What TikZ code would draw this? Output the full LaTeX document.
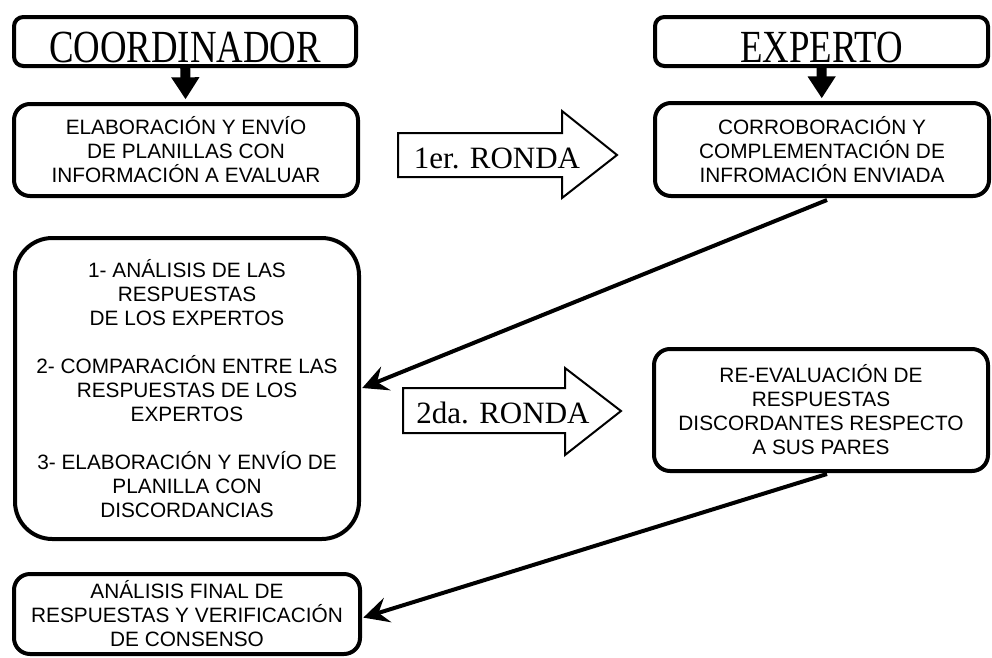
\documentclass[tikz,border=0pt]{standalone}
\usepackage{fontspec}
\setmainfont{Liberation Serif}
\setsansfont{Liberation Sans}
\usetikzlibrary{arrows.meta,calc}

\tikzset{
  borde/.style={draw,line width=3pt,inner sep=0pt},
  caja/.style={borde,rounded corners=12pt,align=center,
    font=\sffamily\fontsize{15.6}{18}\selectfont},
  cabeza/.style={borde,rounded corners=7pt,text height=32pt,text depth=0pt,
    font=\fontsize{34.5}{40}\selectfont},
  baja/.style={line width=7.5pt,-{Triangle[length=16.5pt,width=20pt]},shorten >=2pt},
  flecha/.style={line width=3pt,-{Stealth[length=19pt,width=19pt,inset=7pt]},shorten >=1pt},
  ronda/.style={line width=1.5pt,fill=white},
  rondatxt/.style={anchor=base,font=\fontsize{23.25}{28}\selectfont}
}

\begin{document}
\begin{tikzpicture}[x=0.75pt,y=-0.75pt]
  \useasboundingbox (0,0) rectangle (992,657);
  %% coordinador
  \node[cabeza,minimum width=256.5pt,minimum height=36.75pt] (coord) at (185,41.5)
    {\scalebox{0.8}[1]{COORDINADOR}};
  \node[caja,minimum width=258pt,minimum height=69pt] (elab) at (186,150)
    {ELABORACIÓN Y ENVÍO\\DE PLANILLAS CON\\INFORMACIÓN A EVALUAR};
  \node[caja,rounded corners=28pt,minimum width=258pt,minimum height=225.75pt] (anal) at (187,388.5)
    {1- ANÁLISIS DE LAS\\RESPUESTAS\\DE LOS EXPERTOS\\[18pt]
     2- COMPARACIÓN ENTRE LAS\\RESPUESTAS DE LOS\\EXPERTOS\\[18pt]
     3- ELABORACIÓN Y ENVÍO DE\\PLANILLA CON\\DISCORDANCIAS};
  \node[caja,minimum width=259.5pt,minimum height=60pt] (final) at (187,614)
    {ANÁLISIS FINAL DE\\RESPUESTAS Y VERIFICACIÓN\\DE CONSENSO};
  %% experto
  \node[cabeza,minimum width=249.75pt,minimum height=36.75pt] (exp) at (821.5,41.5)
    {\scalebox{0.8}[1]{EXPERTO}};
  \node[caja,minimum width=250.5pt,minimum height=69.75pt] (corr) at (822,149.5)
    {CORROBORACIÓN Y\\COMPLEMENTACIÓN DE\\INFROMACIÓN ENVIADA};
  \node[caja,minimum width=250.5pt,minimum height=91.5pt] (reeval) at (821,410)
    {RE-EVALUACIÓN DE\\RESPUESTAS\\DISCORDANTES RESPECTO\\A SUS PARES};
  %% rondas
  \draw[ronda] (398,133) -- (562,133) -- (562,111) -- (617,155) -- (562,198)
    -- (562,177) -- (398,177) -- cycle;
  \node[rondatxt] (r1) at (497,168) {1er. RONDA};
  \draw[ronda] (403,388) -- (565,388) -- (565,368) -- (621,411) -- (565,455)
    -- (565,433) -- (403,433) -- cycle;
  \node[rondatxt] (r2) at (503,423) {2da. RONDA};
  %% flechas
  \draw[baja] (coord) -- (elab);
  \draw[baja] (exp) -- (corr);
  \draw[flecha] ($(corr.south)+(5,2)$) -- (anal.east);
  \draw[flecha] ($(reeval.south)+(6,1)$) -- ($(final.east)+(0,4)$);
\end{tikzpicture}
\end{document}
